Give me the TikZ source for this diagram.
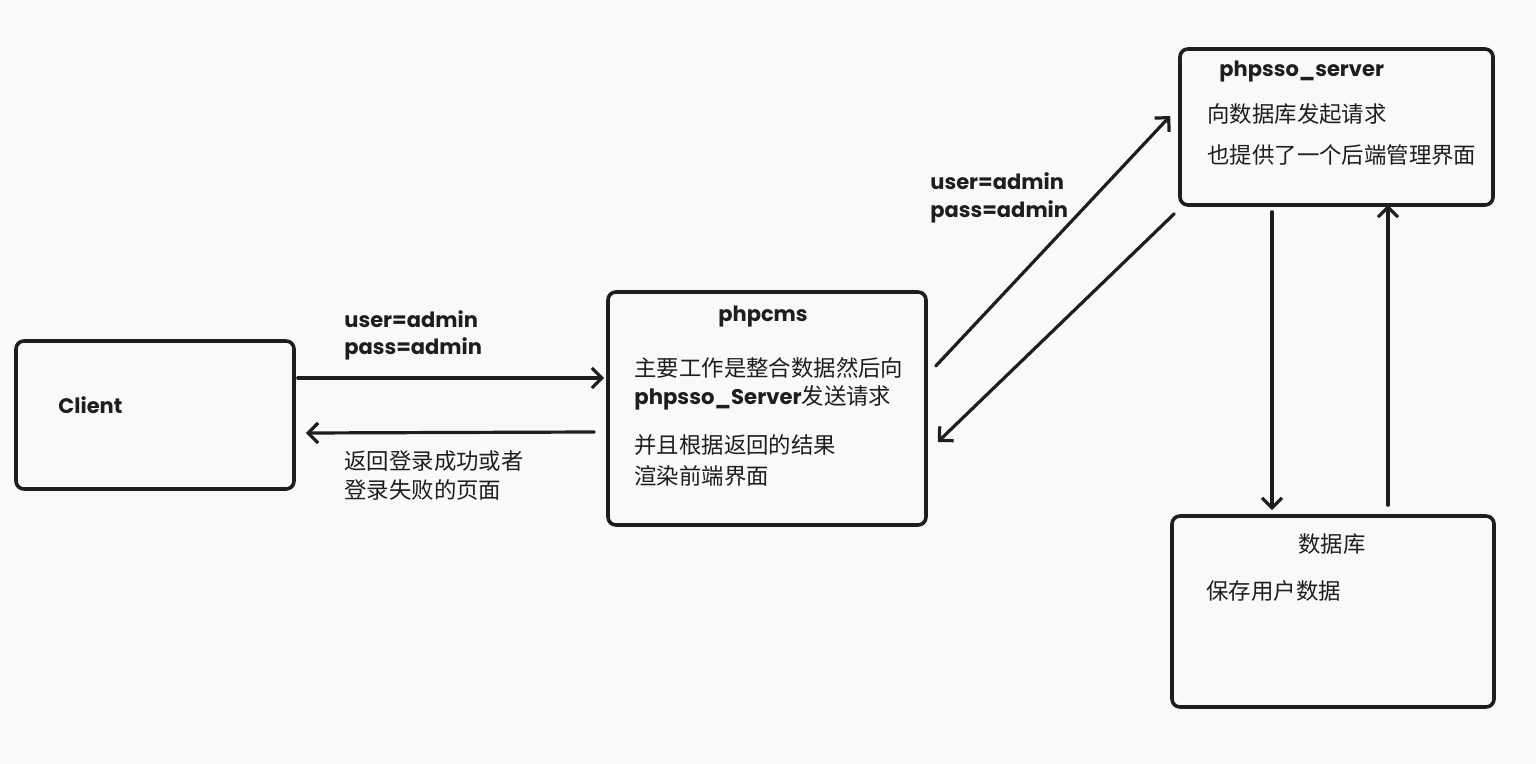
\documentclass[tikz,border=0pt]{standalone}
\usepackage{fontspec}
\setmainfont{Noto Sans CJK SC}
\newfontfamily\hand{Poppins}
\usetikzlibrary{arrows.meta,calc}
\definecolor{bg}{HTML}{F8F9FB}
\definecolor{ink}{HTML}{1E1E1E}
\tikzset{
  box/.style={draw=ink, line width=1.8pt, rounded corners=4pt, inner sep=0pt},
  conn/.style={draw=ink, line width=1.6pt, line cap=round, -{Straight Barb[length=5pt,width=10pt,line width=1.6pt]}},
  txt/.style={anchor=west, inner sep=0pt, text=ink, font=\fontsize{11.2pt}{13pt}\selectfont},
  lat/.style={anchor=west, inner sep=0pt, text=ink, font=\hand\bfseries\fontsize{10.5pt}{12pt}\selectfont},
}
\begin{document}
\begin{tikzpicture}[x=0.5pt,y=-0.5pt]
\fill[bg] (0,0) rectangle (1536,764);
\useasboundingbox (0,0) rectangle (1536,764);
% boxes
\node[box, minimum width=139pt, minimum height=74pt] (client) at (155,415) {};
\node[box, minimum width=159pt, minimum height=116.5pt] (phpcms) at (767,408.5) {};
\node[box, minimum width=156.5pt, minimum height=78pt] (sso) at (1336.5,127) {};
\node[box, minimum width=161pt, minimum height=95.5pt] (db) at (1333,611.5) {};
% texts in boxes
\node[lat] (tclient) at (58,405) {Client};
\node[lat, anchor=center] (tphpcms) at (763,317) {phpcms};
\node[txt] (c1) at (634,368) {主要工作是整合数据然后向};
\node[txt] (c2) at (634,398) {{\hand\bfseries\fontsize{10.6pt}{12pt}\selectfont phpsso\_Server}发送请求};
\node[txt] (c3) at (634,445) {并且根据返回的结果};
\node[txt] (c4) at (634,476) {渲染前端界面};
\node[lat] (tsso) at (1219,72) {phpsso\_server};
\node[txt] (s1) at (1207,114) {向数据库发起请求};
\node[txt] (s2) at (1207,155) {也提供了一个后端管理界面};
\node[txt, anchor=center] (tdb) at (1332,544) {数据库};
\node[txt] (d1) at (1206,591) {保存用户数据};
% labels
\node[lat] (l1) at (344,319) {user=admin};
\node[lat] (l2) at (344,349) {pass=admin};
\node[txt] (l3) at (344,461) {返回登录成功或者};
\node[txt] (l4) at (344,490) {登录失败的页面};
\node[lat] (l5) at (930,181) {user=admin};
\node[lat] (l6) at (930,212) {pass=admin};
% connectors
\draw[conn] ($(client.east)+(2,-37)$) -- ($(phpcms.west)+(-2,-30.5)$);
\draw[conn] ($(phpcms.west)+(-12,23.5)$) -- ($(client.east)+(10,18)$);
\draw[conn] ($(phpcms.east)+(8,-42.5)$) -- ($(sso.west)+(-8,-11)$);
\draw[conn] ($(sso.south west)+(-4,7)$) -- ($(phpcms.east)+(10,33.5)$);
\draw[conn] ($(sso.south)+(-64.5,5)$) -- ($(db.north)+(-61,-4)$);
\draw[conn] ($(db.north)+(55,-9)$) -- ($(sso.south)+(51.5,-2)$);
\end{tikzpicture}
\end{document}
